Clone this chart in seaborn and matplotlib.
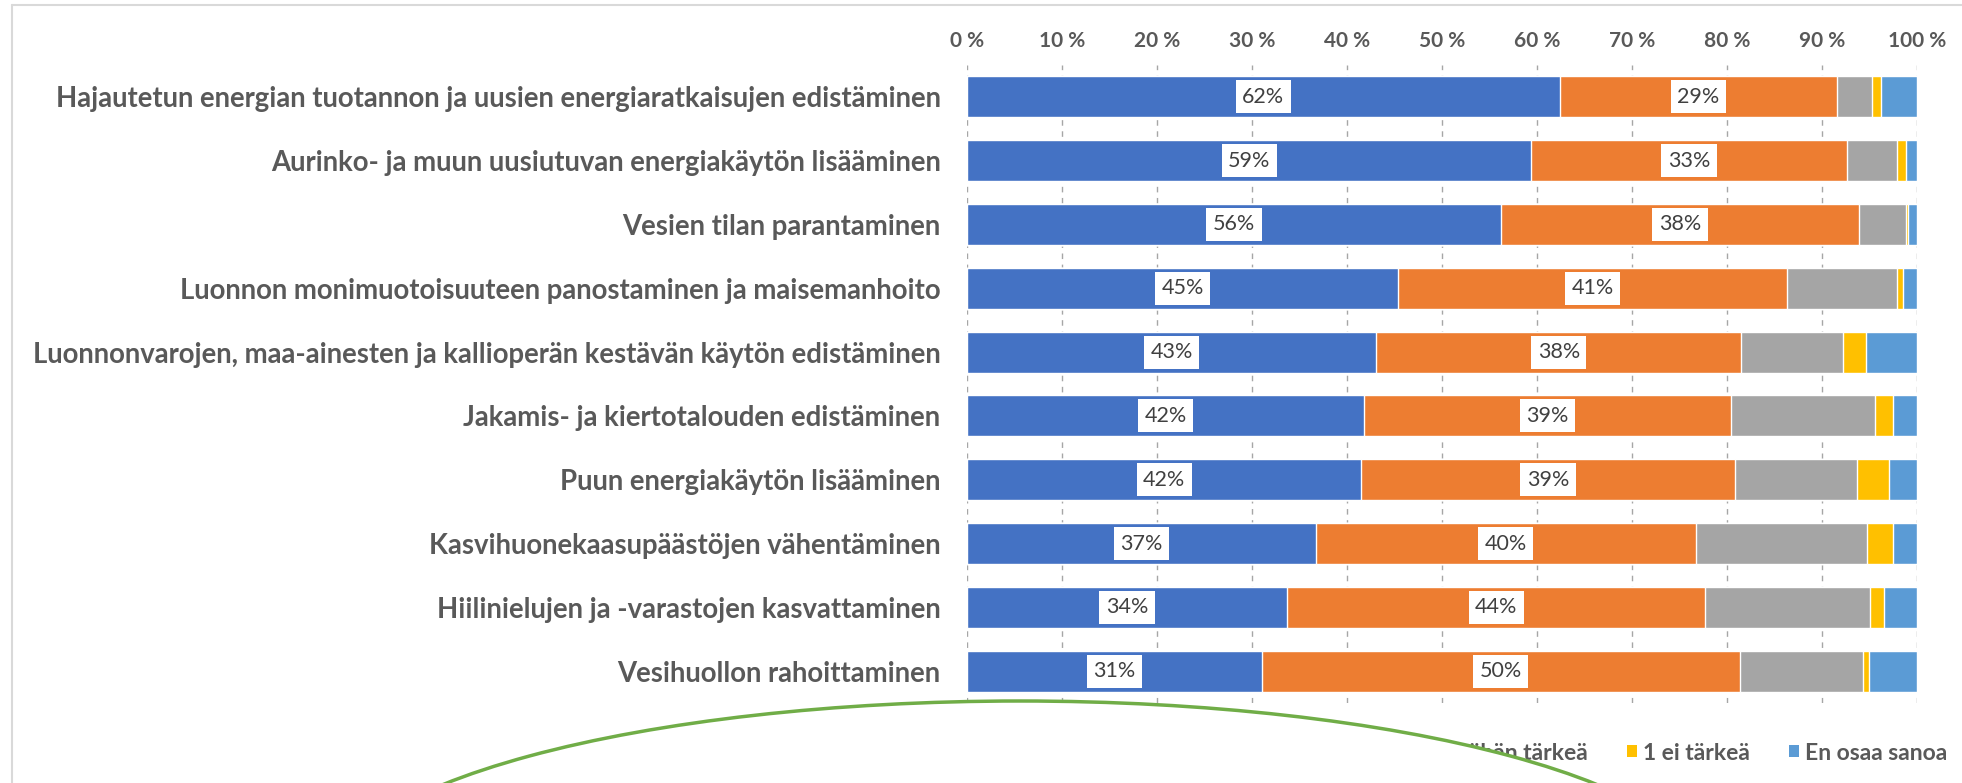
import numpy as np
import pandas as pd
import matplotlib
matplotlib.use("Agg")
import matplotlib.pyplot as plt
from matplotlib.patches import Patch, Ellipse
from matplotlib.lines import Line2D
import seaborn as sns

# Survey topics (top to bottom)
categories = [
    "Hajautetun energian tuotannon ja uusien energiaratkaisujen edistäminen",
    "Aurinko- ja muun uusiutuvan energiakäytön lisääminen",
    "Vesien tilan parantaminen",
    "Luonnon monimuotoisuuteen panostaminen ja maisemanhoito",
    "Luonnonvarojen, maa-ainesten ja kallioperän kestävän käytön edistäminen",
    "Jakamis- ja kiertotalouden edistäminen",
    "Puun energiakäytön lisääminen",
    "Kasvihuonekaasupäästöjen vähentäminen",
    "Hiilinielujen ja -varastojen kasvattaminen",
    "Vesihuollon rahoittaminen",
]

series_names = ["4 erittäin tärkeä", "3 melko tärkeä", "2 vähän tärkeä", "1 ei tärkeä", "En osaa sanoa"]

# Shares of answers (%) per series
very_important = [62.4, 59.4, 56.2, 45.4, 43.1, 41.8, 41.5, 36.7, 33.7, 31.0]
important      = [29.2, 33.2, 37.7, 40.9, 38.4, 38.6, 39.3, 40.0, 44.0, 50.4]
bit_important  = [3.7, 5.3, 4.9, 11.6, 10.7, 15.2, 12.9, 18.0, 17.3, 12.9]
not_important  = [0.9, 0.9, 0.3, 0.6, 2.4, 1.9, 3.3, 2.8, 1.5, 0.6]
dont_know      = [3.8, 1.2, 0.9, 1.5, 5.4, 2.5, 3.0, 2.5, 3.5, 5.1]

x_ticks = [0, 10, 20, 30, 40, 50, 60, 70, 80, 90, 100]
x_tick_labels = ["0 %", "10 %", "20 %", "30 %", "40 %", "50 %", "60 %", "70 %", "80 %", "90 %", "100 %"]

colors = ["#4472C4", "#ED7D31", "#A5A5A5", "#FFC000", "#5B9BD5"]
text_gray = "#595959"

sns.set_style("white")
plt.rcParams["font.family"] = ["Lato", "DejaVu Sans"]

W, H = 1962, 783
fig = plt.figure(figsize=(W / 100, H / 100), dpi=100)
ax = fig.add_axes([967 / W, 1 - 703 / H, (1917 - 967) / W, (703 - 65) / H])

values = np.array([very_important, important, bit_important, not_important, dont_know])
cum = np.cumsum(values, axis=0)
df = pd.DataFrame({"category": categories})

# Draw cumulative bars from the widest to the narrowest so each segment shows
for k in range(len(series_names) - 1, -1, -1):
    df["value"] = cum[k]
    sns.barplot(data=df, x="value", y="category", orient="h", color=colors[k],
                saturation=1, width=0.64, errorbar=None, ax=ax, zorder=3)

# Value labels for the two largest series
for k in range(2):
    left = cum[k] - values[k]
    for i, v in enumerate(values[k]):
        ax.text(left[i] + v / 2, i, f"{v:.0f}%", ha="center", va="center",
                fontsize=15.5, color="#404040", zorder=5,
                bbox=dict(boxstyle="square,pad=0.3", facecolor="white", edgecolor="none"))

ax.set_xlim(0, 100)
ax.set_ylim(len(categories) - 0.5, -0.5)
ax.set_xticks(x_ticks)
ax.set_xticklabels(x_tick_labels, fontsize=15, fontweight="bold", color=text_gray)
ax.xaxis.tick_top()
ax.tick_params(axis="x", length=0, pad=10)
ax.tick_params(axis="y", length=0, pad=19, labelsize=19.8, labelcolor=text_gray)
for lab in ax.get_yticklabels():
    lab.set_fontweight("bold")
ax.set_xlabel("")
ax.set_ylabel("")
for s in ax.spines.values():
    s.set_visible(False)
ax.grid(axis="x", color="#A6A6A6", linestyle=(0, (4, 4)), linewidth=1, zorder=0)
ax.grid(axis="y", visible=False)
ax.set_axisbelow(True)

# Chart frame
frame_kw = dict(transform=fig.transFigure, color="#D9D9D9", linewidth=1.5)
fig.add_artist(Line2D([12 / W, 1.0], [1 - 5 / H, 1 - 5 / H], **frame_kw))
fig.add_artist(Line2D([12 / W, 12 / W], [1 - 5 / H, 0], **frame_kw))

# Legend
handles = [Patch(facecolor=c, edgecolor="none") for c in colors]
fig.legend(handles, series_names, ncol=5, loc="center right",
           bbox_to_anchor=(1947 / W, 1 - 753 / H), frameon=False,
           borderaxespad=0, borderpad=0,
           handlelength=0.45, handleheight=0.45, handletextpad=0.25, columnspacing=1.7,
           prop=dict(weight="bold", size=16.5), labelcolor=text_gray)

# Highlight shape
fig.add_artist(Ellipse((1020 / W, 1 - 889 / H), 2 * 694 / W, 2 * 188 / H,
                       transform=fig.transFigure, facecolor="white",
                       edgecolor="#70AD47", linewidth=2.5, zorder=20))

fig.savefig("out.png", dpi=100)
